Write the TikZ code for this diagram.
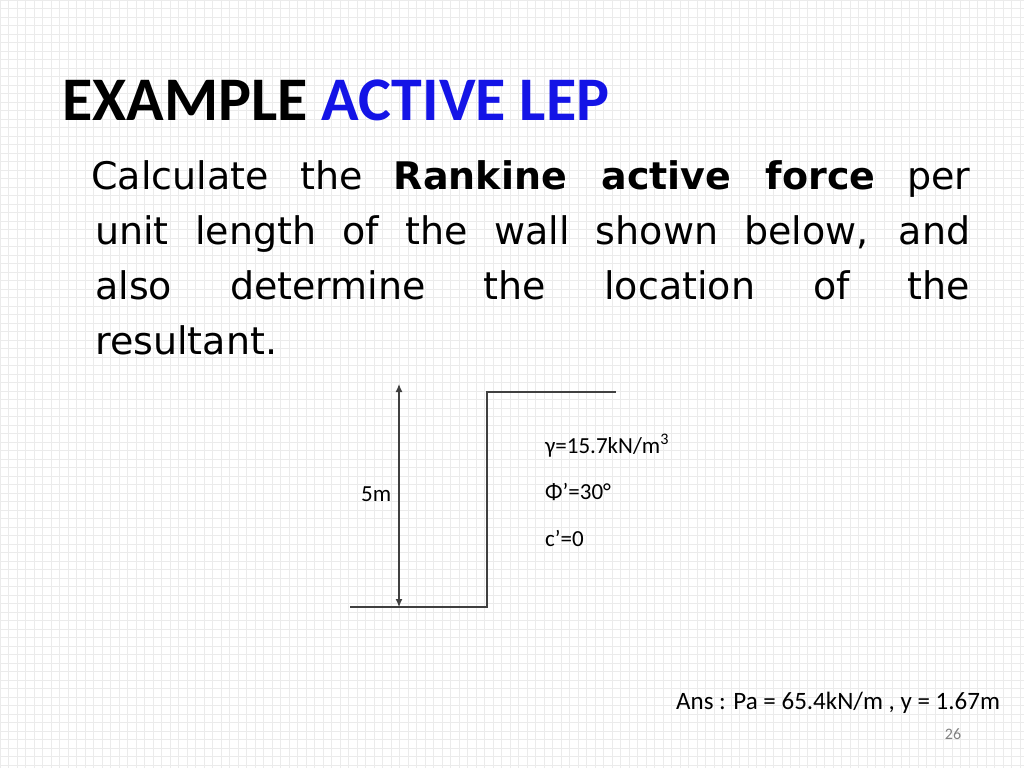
\documentclass[tikz,border=0pt]{standalone}
\usepackage{fontspec}
\setmainfont{Carlito}
\newfontfamily\bodyfont{DejaVu Sans}
\usetikzlibrary{arrows.meta}
\begin{document}
\begin{tikzpicture}[x=1pt,y=-1pt,
  ln/.style={line width=1.2pt,draw=black!75},
  lab/.style={font=\fontsize{23}{27}\selectfont,anchor=west,inner sep=0}]
\useasboundingbox (0,0) rectangle (1024,768);
\fill[white] (0,0) rectangle (1024,768);
\draw[black!8,line width=0.5pt,step=8.5pt] (0,0) grid (1024,768);
\node[anchor=west,inner sep=0,font=\fontsize{62}{70}\selectfont\bfseries] (title) at (62,100) {EXAMPLE \textcolor[RGB]{20,20,230}{ACTIVE LEP}};
\node[anchor=north west,inner sep=0,text width=875pt,align=justify,font=\bodyfont\fontsize{38}{55}\selectfont] (body) at (95,160)
 {\hspace*{-4pt}Calculate the \textbf{Rankine active force} per\linebreak unit length of the wall shown below, and\linebreak also determine the location of the\linebreak resultant.};
\coordinate (gl) at (350,607);
\coordinate (wb) at (487,607);
\coordinate (wt) at (487,392);
\coordinate (tr) at (616,392);
\draw[ln] (gl) -- (wb) -- (wt) -- (tr);
\coordinate (at) at (399,384);
\coordinate (ab) at (399,607);
\draw[ln,{Latex[length=8pt,width=7pt]}-{Latex[length=8pt,width=7pt]}] (at) -- (ab);
\node[lab] (h) at (361,494) {5m};
\node[lab] (g) at (545,446) {γ=15.7kN/m\textsuperscript{3}};
\node[lab] (p) at (545,492) {Φ’=30°};
\node[lab] (c) at (545,538) {c’=0};
\node[lab,font=\fontsize{25}{30}\selectfont] (ans) at (676,703) {Ans : Pa = 65.4kN/m , y = 1.67m};
\node[font=\fontsize{16}{18}\selectfont,text=black!50] (pg) at (953,734) {26};
\end{tikzpicture}
\end{document}
